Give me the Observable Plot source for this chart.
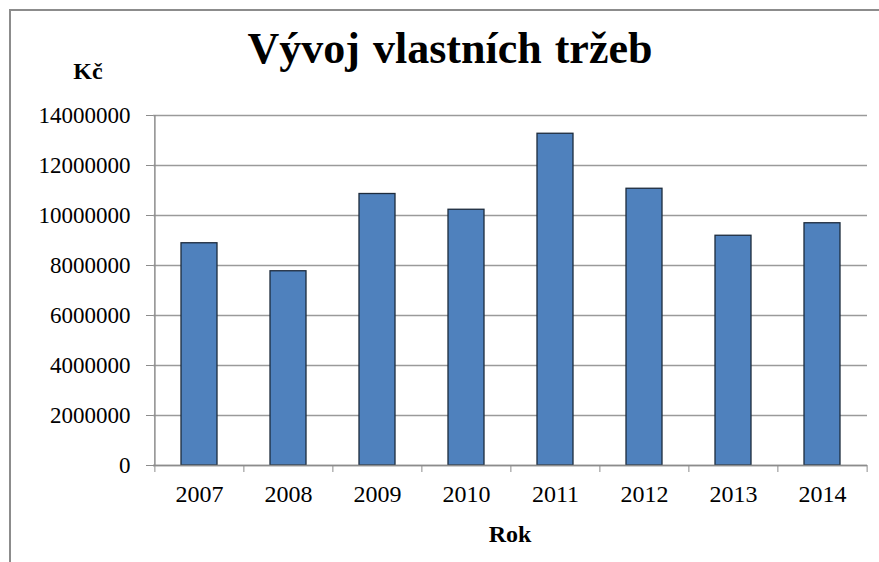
<!DOCTYPE html>
<html>
<head>
<meta charset="utf-8">
<script src="https://cdn.jsdelivr.net/npm/d3@7"></script>
<script src="https://cdn.jsdelivr.net/npm/@observablehq/plot@0.6"></script>
<style>
  html, body { margin: 0; padding: 0; background: #fff; }
  #wrap { position: relative; width: 879px; height: 562px; overflow: hidden; }
  #border { position: absolute; left: 9px; top: 9px; right: -5px; bottom: -5px;
    border-left: 2px solid #8c8c8c; border-top: 2px solid #8c8c8c; pointer-events: none; }
  #wrap svg, #wrap svg text { font-family: "Liberation Serif", "DejaVu Serif", serif !important; }
</style>
</head>
<body>
<div id="wrap"><div id="border"></div></div>
<script>
const years = ["2007", "2008", "2009", "2010", "2011", "2012", "2013", "2014"];
const revenue = [8890000, 7770000, 10860000, 10230000, 13270000, 11070000, 9190000, 9690000];
const yTicks = [0, 2000000, 4000000, 6000000, 8000000, 10000000, 12000000, 14000000];
const titleText = "Vývoj vlastních tržeb";
const yLabel = "Kč";
const xLabel = "Rok";

const data = years.map((y, i) => ({year: y, value: revenue[i]}));

const W = 879, H = 562;
const mL = 153, mR = 12, mT = 115, mB = 97;
const step = (W - mL - mR) / years.length;
const axisGray = "#8c8c8c";

const plot = Plot.plot({
  width: W,
  height: H,
  marginLeft: mL,
  marginRight: mR,
  marginTop: mT,
  marginBottom: mB,
  style: {fontFamily: "'Liberation Serif', serif", color: "#000", background: "transparent"},
  x: {domain: years, paddingInner: 0.6, paddingOuter: 0.3, axis: null, label: null},
  y: {domain: [0, 14000000], axis: null, label: null},
  marks: [
    Plot.gridY(yTicks, {stroke: "#9a9a9a", strokeOpacity: 1, strokeWidth: 1.5}),
    Plot.barY(data, {x: "year", y: "value", fill: "#4F81BD", stroke: "#1d2b3c", strokeWidth: 1.3}),
    Plot.ruleY([0], {stroke: axisGray, strokeWidth: 1.5}),
    Plot.ruleX([years[0]], {dx: -step / 2, stroke: axisGray, strokeWidth: 1.5}),
    Plot.axisY({ticks: yTicks, tickSize: 7, tickPadding: 16, tickFormat: d => String(d),
      fontSize: 23, stroke: axisGray, fill: "#000", label: null}),
    Plot.axisX({tickSize: 7, tickFormat: () => "", dx: -step / 2, stroke: axisGray, label: null}),
    Plot.axisX({ticks: [years[years.length - 1]], tickSize: 7, tickFormat: () => "", dx: step / 2, stroke: axisGray, label: null}),
    Plot.axisX({tickSize: 0, tickPadding: 19, fontSize: 24, fill: "#000", label: null})
  ]
});

const svg = d3.select(plot);
svg.append("text")
  .attr("x", 450).attr("y", 63)
  .attr("text-anchor", "middle")
  .attr("font-size", 44).attr("font-weight", "bold")
  .attr("fill", "#000")
  .attr("font-family", "'Liberation Serif', serif")
  .attr("word-spacing", 2)
  .text(titleText);
svg.append("text")
  .attr("x", 88).attr("y", 79)
  .attr("text-anchor", "middle")
  .attr("font-size", 24).attr("font-weight", "bold")
  .attr("fill", "#000")
  .attr("font-family", "'Liberation Serif', serif")
  .text(yLabel);
svg.append("text")
  .attr("x", (mL + W - mR) / 2).attr("y", 542)
  .attr("text-anchor", "middle")
  .attr("font-size", 24).attr("font-weight", "bold")
  .attr("fill", "#000")
  .attr("font-family", "'Liberation Serif', serif")
  .text(xLabel);

const wrap = document.getElementById("wrap");
wrap.insertBefore(plot, wrap.firstChild);
</script>
</body>
</html>
